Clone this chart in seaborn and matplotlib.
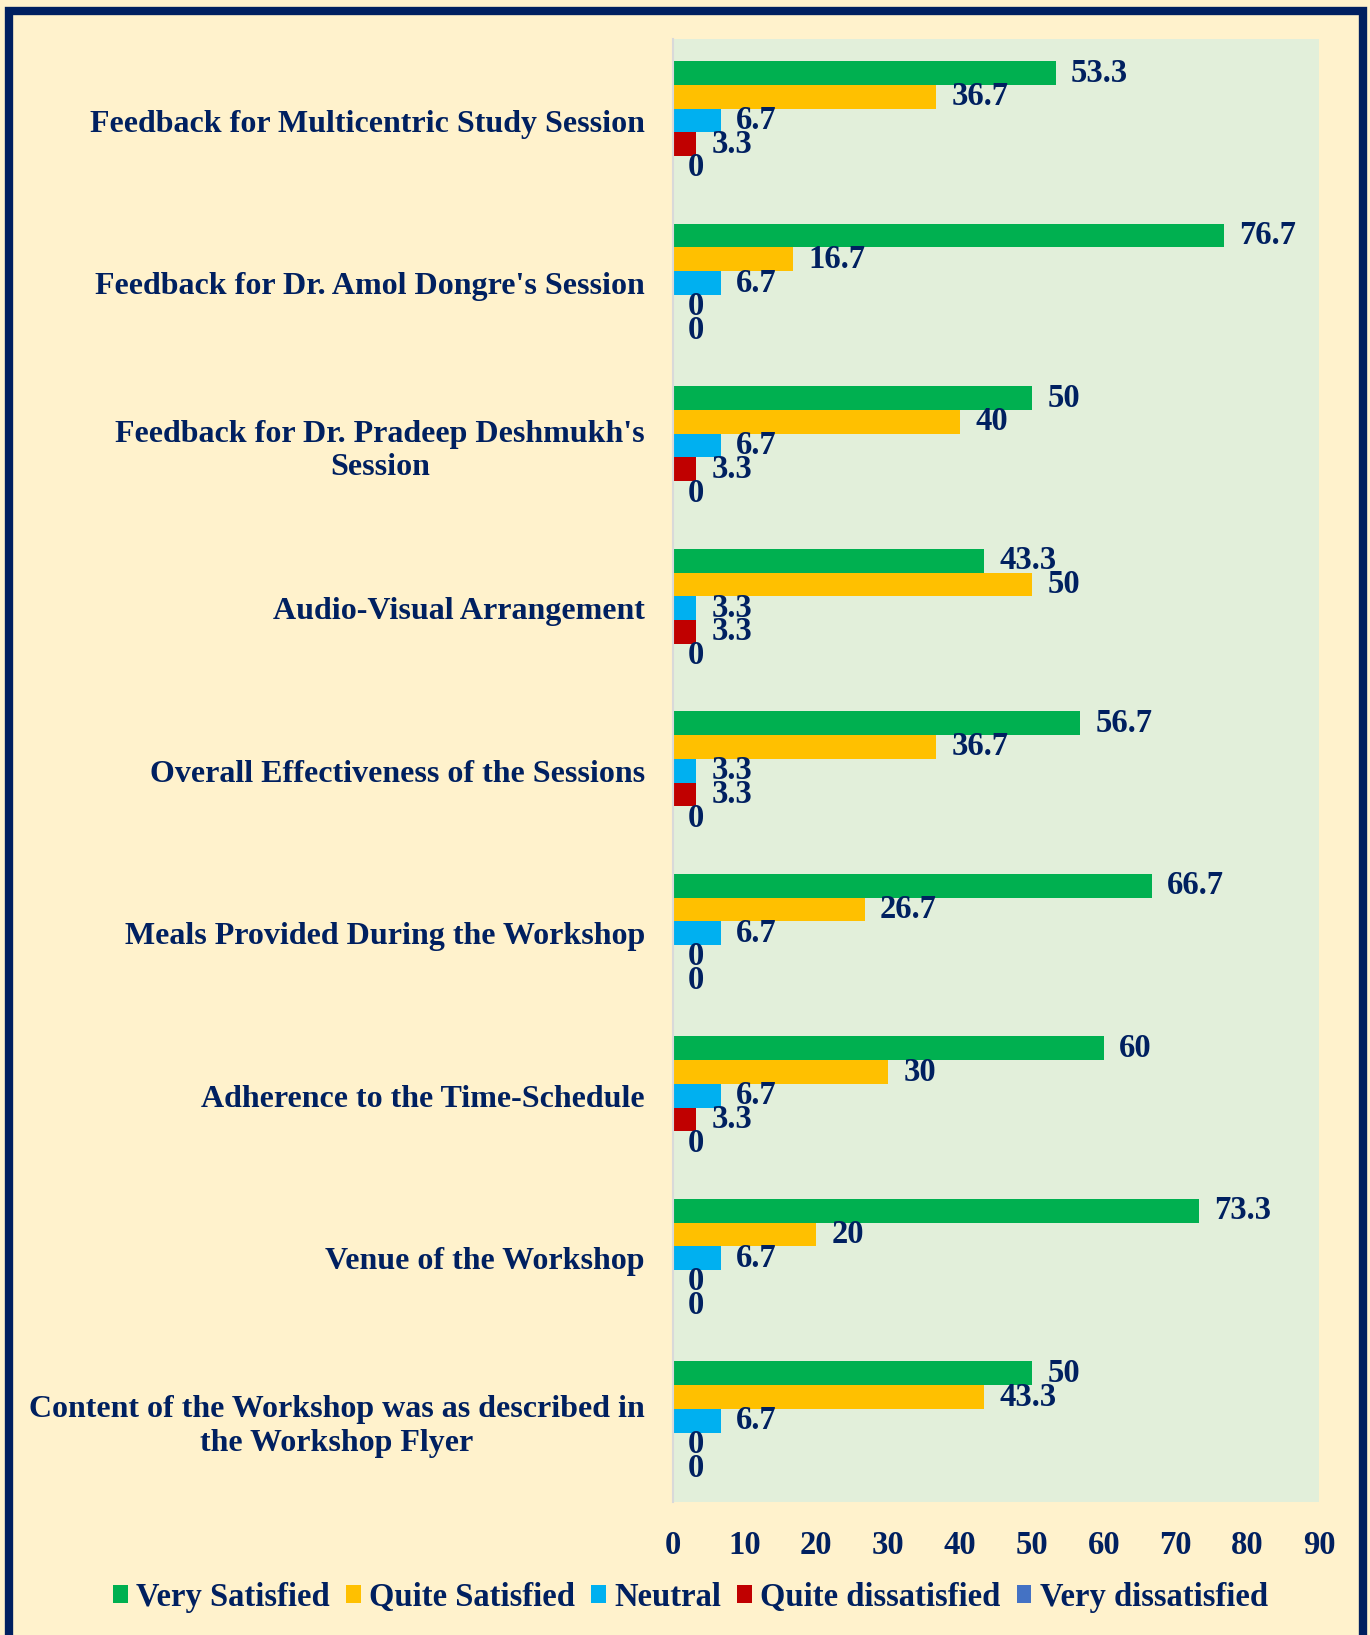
import matplotlib
matplotlib.use("Agg")
import matplotlib.pyplot as plt
import matplotlib.patches as mpatches
import pandas as pd
import seaborn as sns

categories = [
    "Feedback for Multicentric Study Session",
    "Feedback for Dr. Amol Dongre's Session",
    "Feedback for Dr. Pradeep Deshmukh's\nSession",
    "Audio-Visual Arrangement",
    "Overall Effectiveness of the Sessions",
    "Meals Provided During the Workshop",
    "Adherence to the Time-Schedule",
    "Venue of the Workshop",
    "Content of the Workshop was as described in\nthe Workshop Flyer",
]
levels = ["Very Satisfied", "Quite Satisfied", "Neutral",
          "Quite dissatisfied", "Very dissatisfied"]

very_satisfied = [53.3, 76.7, 50, 43.3, 56.7, 66.7, 60, 73.3, 50]
quite_satisfied = [36.7, 16.7, 40, 50, 36.7, 26.7, 30, 20, 43.3]
neutral = [6.7, 6.7, 6.7, 3.3, 3.3, 6.7, 6.7, 6.7, 6.7]
quite_dissatisfied = [3.3, 0, 3.3, 3.3, 3.3, 0, 3.3, 0, 0]
very_dissatisfied = [0, 0, 0, 0, 0, 0, 0, 0, 0]

x_ticks = [0, 10, 20, 30, 40, 50, 60, 70, 80, 90]

colors = ["#00B050", "#FFC000", "#00B0F0", "#C00000", "#4472C4"]
NAVY = "#002060"
FIG_BG = "#FFF2CC"
AX_BG = "#E2EFDA"

series = [very_satisfied, quite_satisfied, neutral, quite_dissatisfied, very_dissatisfied]
rows = []
for lvl, vals in zip(levels, series):
    for cat, v in zip(categories, vals):
        rows.append({"category": cat, "level": lvl, "value": v})
df = pd.DataFrame(rows)

sns.set_theme(style="white")
plt.rcParams["font.family"] = ["Liberation Serif", "DejaVu Serif"]
plt.rcParams["font.weight"] = "bold"

FS = 23.5
CAT_FS = 23

fig = plt.figure(figsize=(13.7, 16.35), dpi=100, facecolor=FIG_BG)
ax = fig.add_axes([0.491, 0.0813, 0.472, 0.8947])
ax.set_facecolor(AX_BG)

sns.barplot(data=df, y="category", x="value", hue="level", order=categories,
            hue_order=levels, palette=colors, orient="h", width=0.73,
            saturation=1, errorbar=None, ax=ax, legend=False, linewidth=0)

for cont in ax.containers:
    labels = [f"{v:g}" for v in cont.datavalues]
    ax.bar_label(cont, labels=labels, padding=11, color=NAVY,
                 fontsize=FS, fontweight="bold")

ax.set_xlim(0, 90)
ax.set_xticks(x_ticks)
ax.set_xlabel("")
ax.set_ylabel("")
ax.tick_params(axis="x", length=0, pad=20, labelsize=FS, labelcolor=NAVY)
ax.tick_params(axis="y", length=0, pad=20, labelsize=CAT_FS, labelcolor=NAVY)
for lab in ax.get_xticklabels() + ax.get_yticklabels():
    lab.set_fontweight("bold")
for lab in ax.get_yticklabels():
    lab.set_multialignment("center")

for side in ["top", "right", "bottom"]:
    ax.spines[side].set_visible(False)
ax.spines["left"].set_color("#D9D9D9")
ax.spines["left"].set_linewidth(1.5)

handles = [mpatches.Patch(facecolor=c, edgecolor="none", label=l)
           for c, l in zip(colors, levels)]
fig.legend(handles=handles, loc="center", bbox_to_anchor=(0.504, 0.023),
           ncol=5, frameon=False, handlelength=0.45, handleheight=0.45,
           handletextpad=0.25, columnspacing=0.5,
           prop={"size": FS, "weight": "bold", "family": "Liberation Serif"},
           labelcolor=NAVY)

border = mpatches.Rectangle((0.0065, -0.01), 0.9885, 1.0035,
                            transform=fig.transFigure, fill=False,
                            edgecolor=NAVY, linewidth=6, clip_on=False)
fig.patches.append(border)

fig.savefig("out.png", dpi=100, facecolor=FIG_BG)
